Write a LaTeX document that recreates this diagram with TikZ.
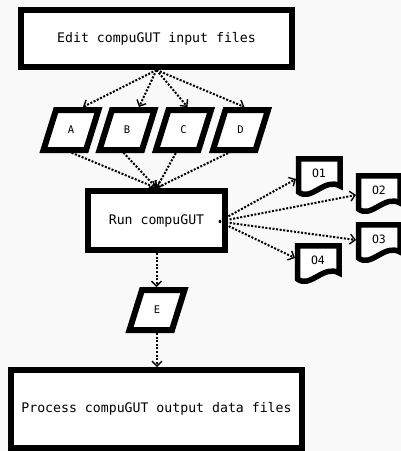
\documentclass[tikz,border=0pt]{standalone}
\usepackage{fontspec}
\setmonofont{DejaVu Sans Mono}
\usetikzlibrary{arrows.meta,calc}
\definecolor{bg}{RGB}{249,249,249}
\newcommand\parashape[4]{%
  \draw[paraline, shift={(#2,#3)}] (-15,-20) -- (27.5,-20) -- (15,20) -- (-27.5,20) -- cycle;
  \node[plabel] (#1) at (#2,#3) {#4};}
\newcommand\docshape[4]{%
  \draw[docline, shift={(#2,#3)}] (-20.5,-14.25) -- (-20.5,19) .. controls (-8,29) and (6,4) .. (21,13) -- (21,-14.25) -- cycle;
  \node[dlabel] (#1) at (#2,#3) {#4};}
\begin{document}
\begin{tikzpicture}[x=1pt,y=-1pt,
  box/.style={draw, line width=6pt, fill=white, inner sep=0pt, outer sep=3pt,
    font=\ttfamily\fontsize{13.2}{15}\selectfont},
  plabel/.style={minimum width=60, minimum height=46, inner sep=0pt, outer sep=0pt,
    font=\ttfamily\fontsize{10.5}{12}\selectfont},
  dlabel/.style={minimum width=46, minimum height=34, inner sep=0pt, outer sep=0pt,
    font=\ttfamily\fontsize{11.5}{13}\selectfont},
  paraline/.style={line width=6pt, fill=white, line join=miter},
  docline/.style={line width=5.5pt, fill=white, line join=miter},
  flow/.style={line width=2pt, dash pattern=on 2pt off 1.6pt,
    -{Straight Barb[length=5pt,width=10pt,line width=1.4pt]}}]
\fill[bg] (0,0) rectangle (401,451);
\useasboundingbox (0,0) rectangle (401,451);

\node[box, minimum width=271, minimum height=57] (top) at (156.5,38.5) {Edit compuGUT input files};
\node[box, minimum width=137, minimum height=59] (run) at (156.5,220.5) {Run compuGUT};
\node[box, minimum width=291, minimum height=78] (proc) at (156.5,409) {Process compuGUT output data files};

\parashape{a}{71}{130}{A}
\parashape{b}{127}{130}{B}
\parashape{c}{183.5}{130}{C}
\parashape{d}{240.5}{130}{D}
\parashape{e}{157}{310}{E}

\docshape{o1}{319}{173}{O1}
\docshape{o2}{379}{190}{O2}
\docshape{o3}{379}{239}{O3}
\docshape{o4}{318}{260}{O4}

\draw[flow] (top.south) -- ($(a.north)+(12,0)$);
\draw[flow] (top.south) -- ($(b.north)+(12,0)$);
\draw[flow] (top.south) -- ($(c.north)+(4,0)$);
\draw[flow] (top.south) -- ($(d.north)+(4,0)$);

\draw[flow] ($(a.center)+(-6,20)$) -- (run.north);
\draw[flow] ($(b.center)+(-6,20)$) -- (run.north);
\draw[flow] ($(c.center)+(-6,20)$) -- (run.north);
\draw[flow] ($(d.center)+(-6,20)$) -- (run.north);

\draw[flow] ($(run.east)+(-9,1)$) -- ($(o1.west)+(0,6)$);
\draw[flow] ($(run.east)+(-9,1)$) -- ($(o2.west)+(0,5)$);
\draw[flow] ($(run.east)+(-9,1)$) -- ($(o3.west)+(0,1)$);
\draw[flow] ($(run.east)+(-9,1)$) -- ($(o4.west)+(0,-2)$);

\draw[flow] (run.south) -- (run.south |- e.north);
\draw[flow] (e.south) -- (e.south |- proc.north);
\end{tikzpicture}
\end{document}
